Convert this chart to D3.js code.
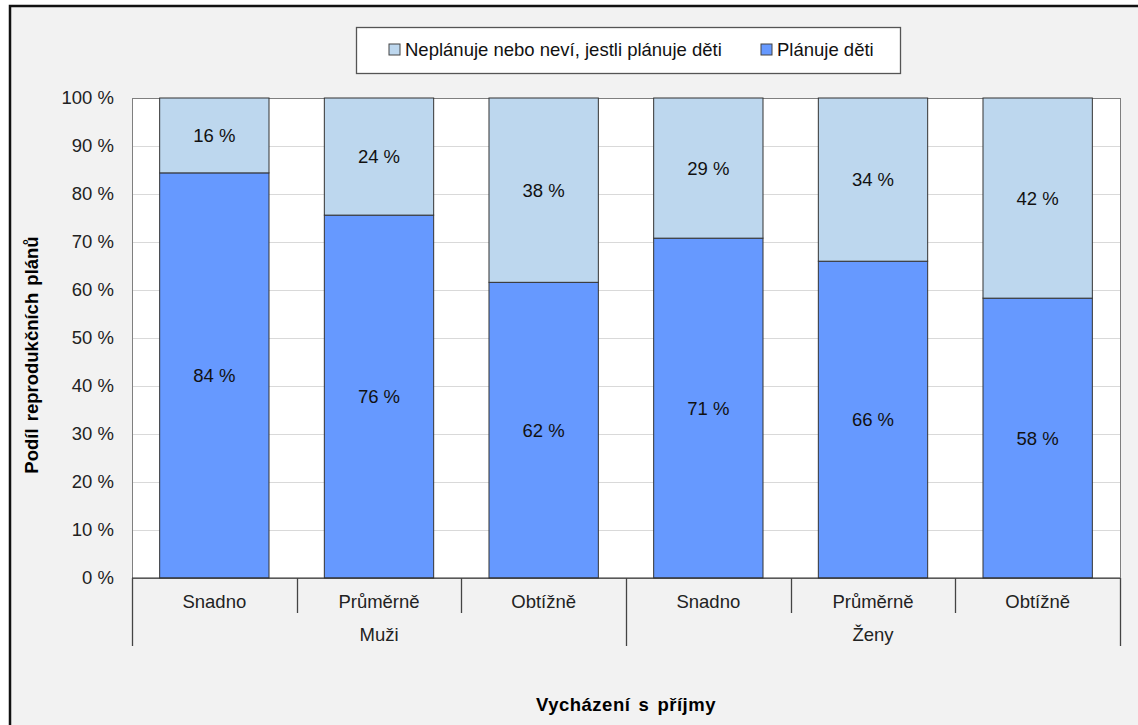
<!DOCTYPE html>
<html>
<head>
<meta charset="utf-8">
<script src="https://cdn.jsdelivr.net/npm/d3@7/dist/d3.min.js"></script>
<style>
  html, body { margin: 0; padding: 0; background: #ffffff; }
  svg { display: block; }
  text { font-family: "Liberation Sans", Arial, sans-serif; }
</style>
</head>
<body>
<svg id="chart" width="1138" height="725"></svg>
<script>
const categories = ["Snadno", "Průměrně", "Obtížně", "Snadno", "Průměrně", "Obtížně"];
const groups = ["Muži", "Ženy"];
const planuje = [84.4, 75.6, 61.6, 70.8, 66.0, 58.3];
const neplanuje = [15.6, 24.4, 38.4, 29.2, 34.0, 41.7];
const yTicks = [0, 10, 20, 30, 40, 50, 60, 70, 80, 90, 100];
const seriesNames = ["Neplánuje nebo neví, jestli plánuje děti", "Plánuje děti"];
const colors = ["#BDD7EE", "#6699FF"];

(function () {
const svg = d3.select("#chart");
const FS = 18.5;

// outer frame
svg.append("rect").attr("x", 10).attr("y", 6).attr("width", 1200).attr("height", 800)
  .attr("fill", "#f2f2f2").attr("stroke", "#111").attr("stroke-width", 2.5);

const pL = 132, pR = 1120, pT = 98, pB = 578;
const x = d3.scaleBand().domain(d3.range(categories.length)).range([pL, pR])
  .paddingInner(0.336).paddingOuter(0.168);
const y = d3.scaleLinear().domain([0, 100]).range([pB, pT]);

// plot area
svg.append("rect").attr("x", pL).attr("y", pT).attr("width", pR - pL).attr("height", pB - pT)
  .attr("fill", "#ffffff");

// gridlines
svg.append("g").selectAll("line").data(yTicks.filter(d => d > 0 && d < 100)).join("line")
  .attr("x1", pL).attr("x2", pR).attr("y1", d => y(d) + 0.5).attr("y2", d => y(d) + 0.5)
  .attr("stroke", "#d9d9d9").attr("stroke-width", 1);

// plot border
svg.append("rect").attr("x", pL + 0.5).attr("y", pT + 0.5).attr("width", pR - pL).attr("height", pB - pT)
  .attr("fill", "none").attr("stroke", "#7f7f7f").attr("stroke-width", 1);

// stacks
const data = categories.map((c, i) => ({ i, p: planuje[i], n: neplanuje[i] }));
const bars = svg.append("g");
bars.selectAll("rect.p").data(data).join("rect").attr("class", "p")
  .attr("x", d => x(d.i)).attr("width", x.bandwidth())
  .attr("y", d => y(d.p)).attr("height", d => y(0) - y(d.p))
  .attr("fill", colors[1]).attr("stroke", "#333").attr("stroke-width", 1);
bars.selectAll("rect.n").data(data).join("rect").attr("class", "n")
  .attr("x", d => x(d.i)).attr("width", x.bandwidth())
  .attr("y", d => y(d.p + d.n)).attr("height", d => y(d.p) - y(d.p + d.n))
  .attr("fill", colors[0]).attr("stroke", "#333").attr("stroke-width", 1);

// value labels
const lab = svg.append("g").attr("font-size", FS).attr("fill", "#111").attr("text-anchor", "middle");
lab.selectAll("text.p").data(data).join("text").attr("class", "p")
  .attr("x", d => x(d.i) + x.bandwidth() / 2).attr("y", d => y(d.p / 2)).attr("dy", "0.35em")
  .text(d => Math.round(d.p) + " %");
lab.selectAll("text.n").data(data).join("text").attr("class", "n")
  .attr("x", d => x(d.i) + x.bandwidth() / 2).attr("y", d => y(d.p + d.n / 2)).attr("dy", "0.35em")
  .text(d => Math.round(d.n) + " %");

// y axis
const yAxis = d3.axisLeft(y).tickValues(yTicks).tickSize(0).tickPadding(18).tickFormat(d => d + " %");
const ya = svg.append("g").attr("transform", `translate(${pL},0)`).call(yAxis);
ya.select(".domain").remove();
ya.selectAll("text").attr("font-size", FS).attr("fill", "#222")
  .attr("font-family", "'Liberation Sans', Arial, sans-serif");

// x baseline
svg.append("line").attr("x1", pL).attr("x2", pR).attr("y1", pB).attr("y2", pB)
  .attr("stroke", "#333").attr("stroke-width", 1.2);

// dividers
const step = x.step();
const divs = d3.range(categories.length + 1);
svg.append("g").selectAll("line").data(divs).join("line")
  .attr("x1", i => Math.round(pL + i * step) + 0.5).attr("x2", i => Math.round(pL + i * step) + 0.5)
  .attr("y1", pB).attr("y2", i => (i % 3 === 0 ? 646 : 613))
  .attr("stroke", "#444").attr("stroke-width", 1.3);

// category labels
svg.append("g").selectAll("text").data(data).join("text")
  .attr("x", d => x(d.i) + x.bandwidth() / 2).attr("y", 608)
  .attr("text-anchor", "middle").attr("font-size", FS).attr("fill", "#222")
  .text(d => categories[d.i]);

// group labels
svg.append("g").selectAll("text").data(groups).join("text")
  .attr("x", (g, k) => pL + (k * 3 + 1.5) * step).attr("y", 641)
  .attr("text-anchor", "middle").attr("font-size", FS).attr("fill", "#222")
  .text(g => g);

// axis titles
svg.append("text").attr("x", (pL + pR) / 2).attr("y", 711)
  .attr("text-anchor", "middle").attr("font-size", FS).attr("font-weight", "bold").attr("fill", "#000")
  .attr("letter-spacing", 0.5).attr("word-spacing", 2.5)
  .text("Vycházení s příjmy");
svg.append("text").attr("transform", "translate(38,355) rotate(-90)")
  .attr("text-anchor", "middle").attr("font-size", FS).attr("font-weight", "bold").attr("fill", "#000")
  .attr("word-spacing", 2)
  .text("Podíl reprodukčních plánů");

// legend
const lg = svg.append("g");
lg.append("rect").attr("x", 356.5).attr("y", 27.5).attr("width", 544).attr("height", 46)
  .attr("fill", "#fff").attr("stroke", "#555").attr("stroke-width", 1.3);
const legItems = [{ name: seriesNames[0], c: colors[0], sx: 389, tx: 405 }, { name: seriesNames[1], c: colors[1], sx: 761, tx: 777 }];
legItems.forEach(it => {
  lg.append("rect").attr("x", it.sx).attr("y", 44).attr("width", 11).attr("height", 11)
    .attr("fill", it.c).attr("stroke", "#444").attr("stroke-width", 1);
  lg.append("text").attr("x", it.tx).attr("y", 56).attr("font-size", FS).attr("fill", "#111").text(it.name);
});
})();
</script>
</body>
</html>
